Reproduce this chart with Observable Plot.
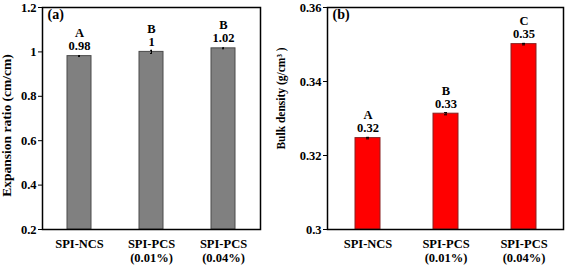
<!DOCTYPE html>
<html>
<head>
<meta charset="utf-8">
<script src="https://cdn.jsdelivr.net/npm/d3@7"></script>
<script src="https://cdn.jsdelivr.net/npm/@observablehq/plot@0.6"></script>
<style>
  html, body { margin: 0; padding: 0; background: #fff; }
  #wrap { display: flex; width: 567px; height: 265px; }
  svg { font-family: "Liberation Serif", "Times New Roman", serif; }
</style>
</head>
<body>
<div id="wrap"></div>
<script>
const categories = ["SPI-NCS", "SPI-PCS (0.01%)", "SPI-PCS (0.04%)"];

const expansion = [0.981, 1.0, 1.016];
const expansionErr = [0.002, 0.007, 0.002];
const expansionLabels = ["0.98", "1", "1.02"];
const expansionLetters = ["A", "B", "B"];
const expansionTicks = [0.2, 0.4, 0.6, 0.8, 1.0, 1.2];

const density = [0.3247, 0.3313, 0.3501];
const densityErr = [0.0002, 0.0003, 0.0002];
const densityLabels = ["0.32", "0.33", "0.35"];
const densityLetters = ["A", "B", "C"];
const densityTicks = [0.30, 0.32, 0.34, 0.36];

const fontStyle = {fontFamily: "Liberation Serif, Times New Roman, serif", fontWeight: "bold", fontSize: "12.5px", color: "#000"};

function panel({values, errs, labels, letters, ticks, ymin, ymax, fill, stroke, width, marginLeft, marginRight, padInner, padOuter, ylabel, labelSize, labelDx, labelDy, tag}) {
  const rows = categories.map((c, i) => ({cat: c, v: values[i], e: errs[i], lab: labels[i], let: letters[i]}));
  return Plot.plot({
    width, height: 265,
    marginLeft, marginRight, marginTop: 7, marginBottom: 36,
    style: fontStyle,
    x: {domain: categories, paddingInner: padInner, paddingOuter: padOuter, label: null},
    y: {domain: [ymin, ymax], label: null},
    marks: [
      Plot.barY(rows, {x: "cat", y1: () => ymin, y2: "v", fill, stroke, strokeWidth: 1}),
      Plot.ruleX(rows, {x: "cat", y1: d => d.v - d.e, y2: d => d.v + d.e, stroke: "#000", strokeWidth: 1}),
      Plot.tickY(rows, {x: "cat", y: d => d.v - d.e, stroke: "#000", strokeWidth: 1, inset: 11}),
      Plot.tickY(rows, {x: "cat", y: d => d.v + d.e, stroke: "#000", strokeWidth: 1, inset: 11}),
      Plot.text(rows, {x: "cat", y: "v", text: "lab", dy: -10, fontWeight: "bold", fontSize: 12.5, fill: "#000"}),
      Plot.text(rows, {x: "cat", y: "v", text: "let", dy: -23, fontWeight: "bold", fontSize: 12.5, fill: "#000"}),
      Plot.axisY({ticks, tickFormat: d => String(+d.toFixed(2)), tickSize: 4, tickPadding: 2, label: null, fontWeight: "bold", fontSize: 12.5}),
      Plot.axisX({tickSize: 0, tickPadding: 9, label: null, tickFormat: d => d.replace(" (", "\n("), fontWeight: "bold", fontSize: 12.5, lineHeight: 1.1}),
      Plot.text([ylabel], {frameAnchor: "left", textAnchor: "middle", text: d => d, rotate: -90, dx: labelDx, dy: labelDy, fontWeight: "bold", fontSize: labelSize, fill: "#000"}),
      Plot.text([tag], {frameAnchor: "top-left", text: d => d, dx: 5, dy: 2, lineAnchor: "top", textAnchor: "start", fontWeight: "bold", fontSize: 14, fill: "#000"}),
      Plot.frame({stroke: "#000", strokeWidth: 1.5})
    ]
  });
}

const wrap = document.getElementById("wrap");
wrap.appendChild(panel({
  values: expansion, errs: expansionErr, labels: expansionLabels, letters: expansionLetters,
  ticks: expansionTicks, ymin: 0.2, ymax: 1.2, fill: "#808080", stroke: "#4a4a4a",
  width: 270, marginLeft: 42, marginRight: 10, padInner: 0.67, padOuter: 0.335,
  ylabel: "Expansion ratio (cm/cm)", labelSize: 13.5, labelDx: -36, labelDy: 7, tag: "(a)"
}));
wrap.appendChild(panel({
  values: density, errs: densityErr, labels: densityLabels, letters: densityLetters,
  ticks: densityTicks, ymin: 0.30, ymax: 0.36, fill: "#ff0000", stroke: "#8a2020",
  width: 297, marginLeft: 57, marginRight: 4, padInner: 0.68, padOuter: 0.34,
  ylabel: "Bulk density (g/cm³ )", labelSize: 11.5, labelDx: -46, labelDy: -20, tag: "(b)"
}));
</script>
</body>
</html>
